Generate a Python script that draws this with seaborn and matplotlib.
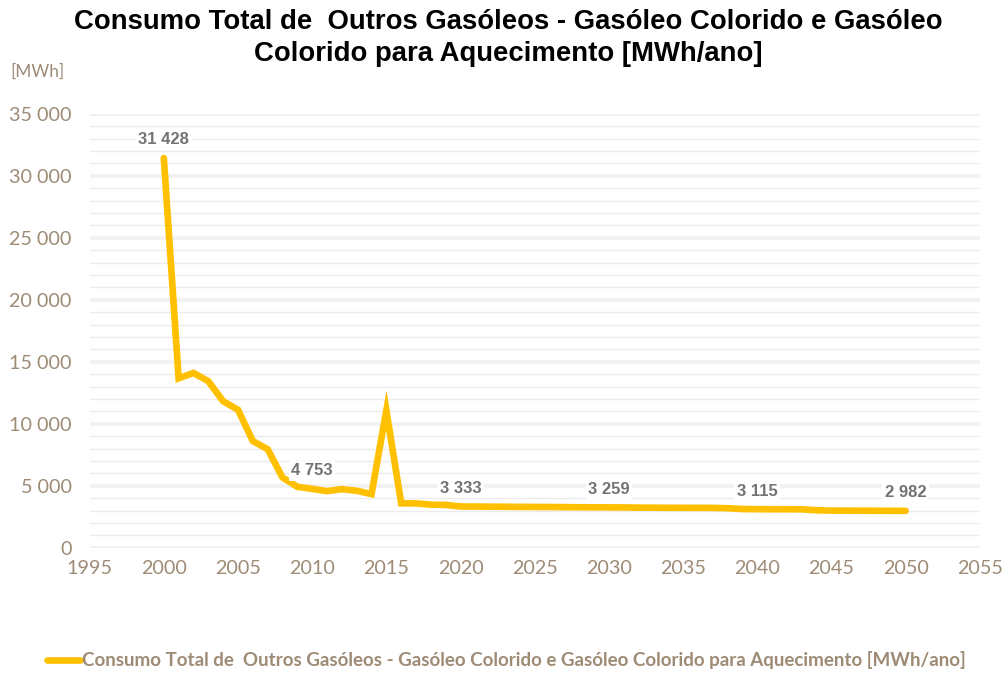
import numpy as np
import pandas as pd
import matplotlib
matplotlib.use("Agg")
import matplotlib.pyplot as plt
from matplotlib.ticker import FuncFormatter, MultipleLocator
import seaborn as sns

# Annual consumption, 2000-2050
years = list(range(2000, 2051))
consumo = [
    31428, 13670, 14100, 13430, 11820, 11130, 8610, 7950, 5670, 4920,
    4753, 4570, 4730, 4600, 4330, 11080, 3590, 3580, 3480, 3460,
    3333, 3325, 3318, 3310, 3300, 3295, 3290, 3280, 3270, 3265,
    3259, 3255, 3240, 3235, 3230, 3228, 3225, 3222, 3190, 3130,
    3115, 3112, 3110, 3105, 3030, 3000, 2995, 2992, 2988, 2985,
    2982,
]
label_years = [2000, 2010, 2020, 2030, 2040, 2050]

serie = "Consumo Total de  Outros Gasóleos - Gasóleo Colorido e Gasóleo Colorido para Aquecimento [MWh/ano]"
titulo = "Consumo Total de  Outros Gasóleos - Gasóleo Colorido e Gasóleo\nColorido para Aquecimento [MWh/ano]"

df = pd.DataFrame({"Ano": years, "Consumo": consumo, "Série": serie})

sns.set_style("white")
plt.rcParams["font.family"] = ["Lato", "DejaVu Sans"]

axis_color = "#9E8B76"
line_color = "#FFC000"

fig = plt.figure(figsize=(10.07, 6.73), dpi=100)
ax = fig.add_axes([0.089, 0.186, 0.884, 0.645])

sns.lineplot(data=df, x="Ano", y="Consumo", hue="Série", palette=[line_color],
             linewidth=4.8, ax=ax, legend=True, solid_capstyle="round",
             solid_joinstyle="miter")

ax.set_xlim(1995, 2055)
ax.set_ylim(0, 35000)
ax.xaxis.set_major_locator(MultipleLocator(5))
ax.yaxis.set_major_locator(MultipleLocator(5000))
ax.yaxis.set_minor_locator(MultipleLocator(1000))
ax.yaxis.set_major_formatter(FuncFormatter(lambda v, p: f"{int(v):,}".replace(",", " ")))

ax.grid(axis="y", which="major", color="#F2F2F2", linewidth=3.0, zorder=0)
ax.grid(axis="y", which="minor", color="#ECECEC", linewidth=1.0, zorder=0)
ax.grid(axis="x", visible=False)
ax.set_axisbelow(True)
for s in ax.spines.values():
    s.set_visible(False)

ax.tick_params(axis="both", which="both", length=0, labelsize=14.2, labelcolor=axis_color)
ax.tick_params(axis="y", pad=13)
ax.tick_params(axis="x", pad=9)
ax.set_xlabel("")
ax.set_ylabel("")

# Value labels
for yr in label_years:
    v = consumo[years.index(yr)]
    ax.annotate(f"{v:,}".replace(",", " "), xy=(yr, v), xytext=(0, 13),
                textcoords="offset points", ha="center", va="center",
                fontsize=12, fontweight="bold", color="#737373",
                family=["Liberation Sans", "DejaVu Sans"],
                bbox=dict(boxstyle="square,pad=0.15", fc="white", ec="none"),
                zorder=5)

fig.text(0.505, 0.944, titulo, ha="center", va="center", fontsize=19.8,
         fontweight="bold", color="black", linespacing=1.3,
         family=["Liberation Sans", "DejaVu Sans"])
fig.text(0.010, 0.893, "[MWh]", ha="left", va="center", fontsize=12.4,
         color=axis_color)

handles, labels = ax.get_legend_handles_labels()
ax.get_legend().remove()
leg = fig.legend(handles, labels, loc="center", bbox_to_anchor=(0.503, 0.019),
                 frameon=False, handlelength=1.75, handletextpad=0.1,
                 prop={"size": 13.5, "weight": "bold"})
for t in leg.get_texts():
    t.set_color(axis_color)
for h in leg.legend_handles:
    h.set_linewidth(4.8)

fig.savefig("out.png", dpi=100)
